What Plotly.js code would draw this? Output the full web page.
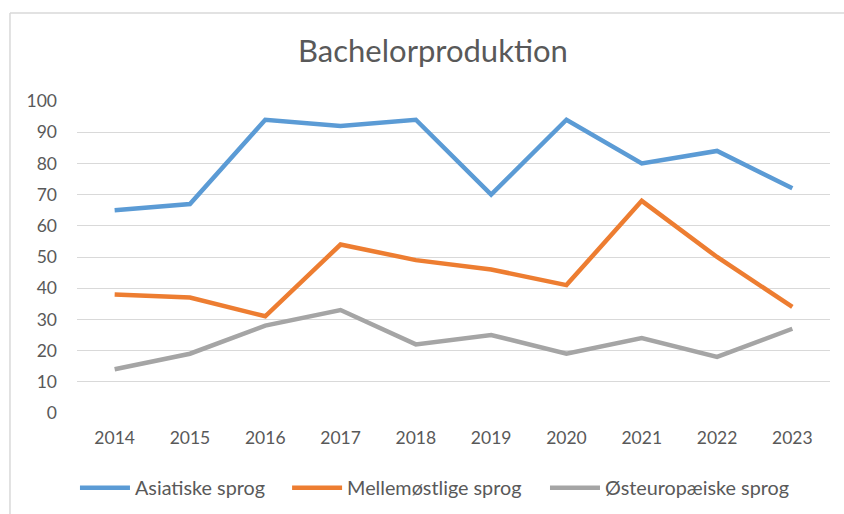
<!DOCTYPE html>
<html>
<head>
<meta charset="utf-8">
<script src="https://cdn.plot.ly/plotly-3.0.1.min.js"></script>
<style>
html,body{margin:0;padding:0;background:#fff;}
#chart{width:844px;height:514px;}
</style>
</head>
<body>
<div id="chart"></div>
<script>
const years = ["2014","2015","2016","2017","2018","2019","2020","2021","2022","2023"];
const asiatiske = [65, 67, 94, 92, 94, 70, 94, 80, 84, 72];
const mellemoestlige = [38, 37, 31, 54, 49, 46, 41, 68, 50, 34];
const oesteuropaeiske = [14, 19, 28, 33, 22, 25, 19, 24, 18, 27];
const seriesNames = ["Asiatiske sprog", "Mellemøstlige sprog", "Østeuropæiske sprog"];
const seriesColors = ["#5b9bd5", "#ed7d31", "#a5a5a5"];

const font = "Lato, 'Open Sans', sans-serif";
const legendIds = ["legend", "legend2", "legend3"];
const legendX = [-0.0027, 0.279, 0.6215];

const data = [asiatiske, mellemoestlige, oesteuropaeiske].map((vals, i) => ({
  x: years, y: vals, type: "scatter", mode: "lines",
  name: seriesNames[i], legend: legendIds[i],
  line: {color: seriesColors[i], width: 4.5}
}));

const layout = {
  width: 844, height: 514,
  margin: {l: 77, r: 14, t: 101, b: 101, autoexpand: false},
  paper_bgcolor: "#ffffff", plot_bgcolor: "#ffffff",
  font: {family: font, color: "#595959", size: 17},
  title: {text: "Bachelorproduktion", font: {family: font, size: 31, color: "#595959"},
          x: 0.513, xanchor: "center", y: 0.9, yanchor: "middle"},
  xaxis: {type: "category", range: [-0.5, 9.5], showgrid: false, zeroline: false,
          showline: false, ticks: "", ticklabelstandoff: 12, tickfont: {size: 17.5}},
  yaxis: {range: [0, 100], dtick: 10, tick0: 0, showgrid: true, gridcolor: "#d9d9d9",
          gridwidth: 1, zeroline: false, showline: false, ticks: "",
          ticklabelstandoff: 19, tickfont: {size: 17.5}},
  showlegend: true,
  shapes: [
    {type: "line", xref: "paper", yref: "paper", x0: -0.089, x1: 1.1, y0: 1.282, y1: 1.282,
     line: {color: "#d9d9d9", width: 1.5}},
    {type: "line", xref: "paper", yref: "paper", x0: -0.089, x1: -0.089, y0: 1.282, y1: -0.4,
     line: {color: "#d9d9d9", width: 1.5}}
  ]
};
legendIds.forEach((id, i) => {
  layout[id] = {orientation: "h", x: legendX[i], xanchor: "left", y: -0.24, yanchor: "middle",
                font: {size: 19.8, color: "#595959"}, itemwidth: 50, bgcolor: "rgba(0,0,0,0)"};
});

Plotly.newPlot("chart", data, layout, {displayModeBar: false, staticPlot: true});
</script>
</body>
</html>
